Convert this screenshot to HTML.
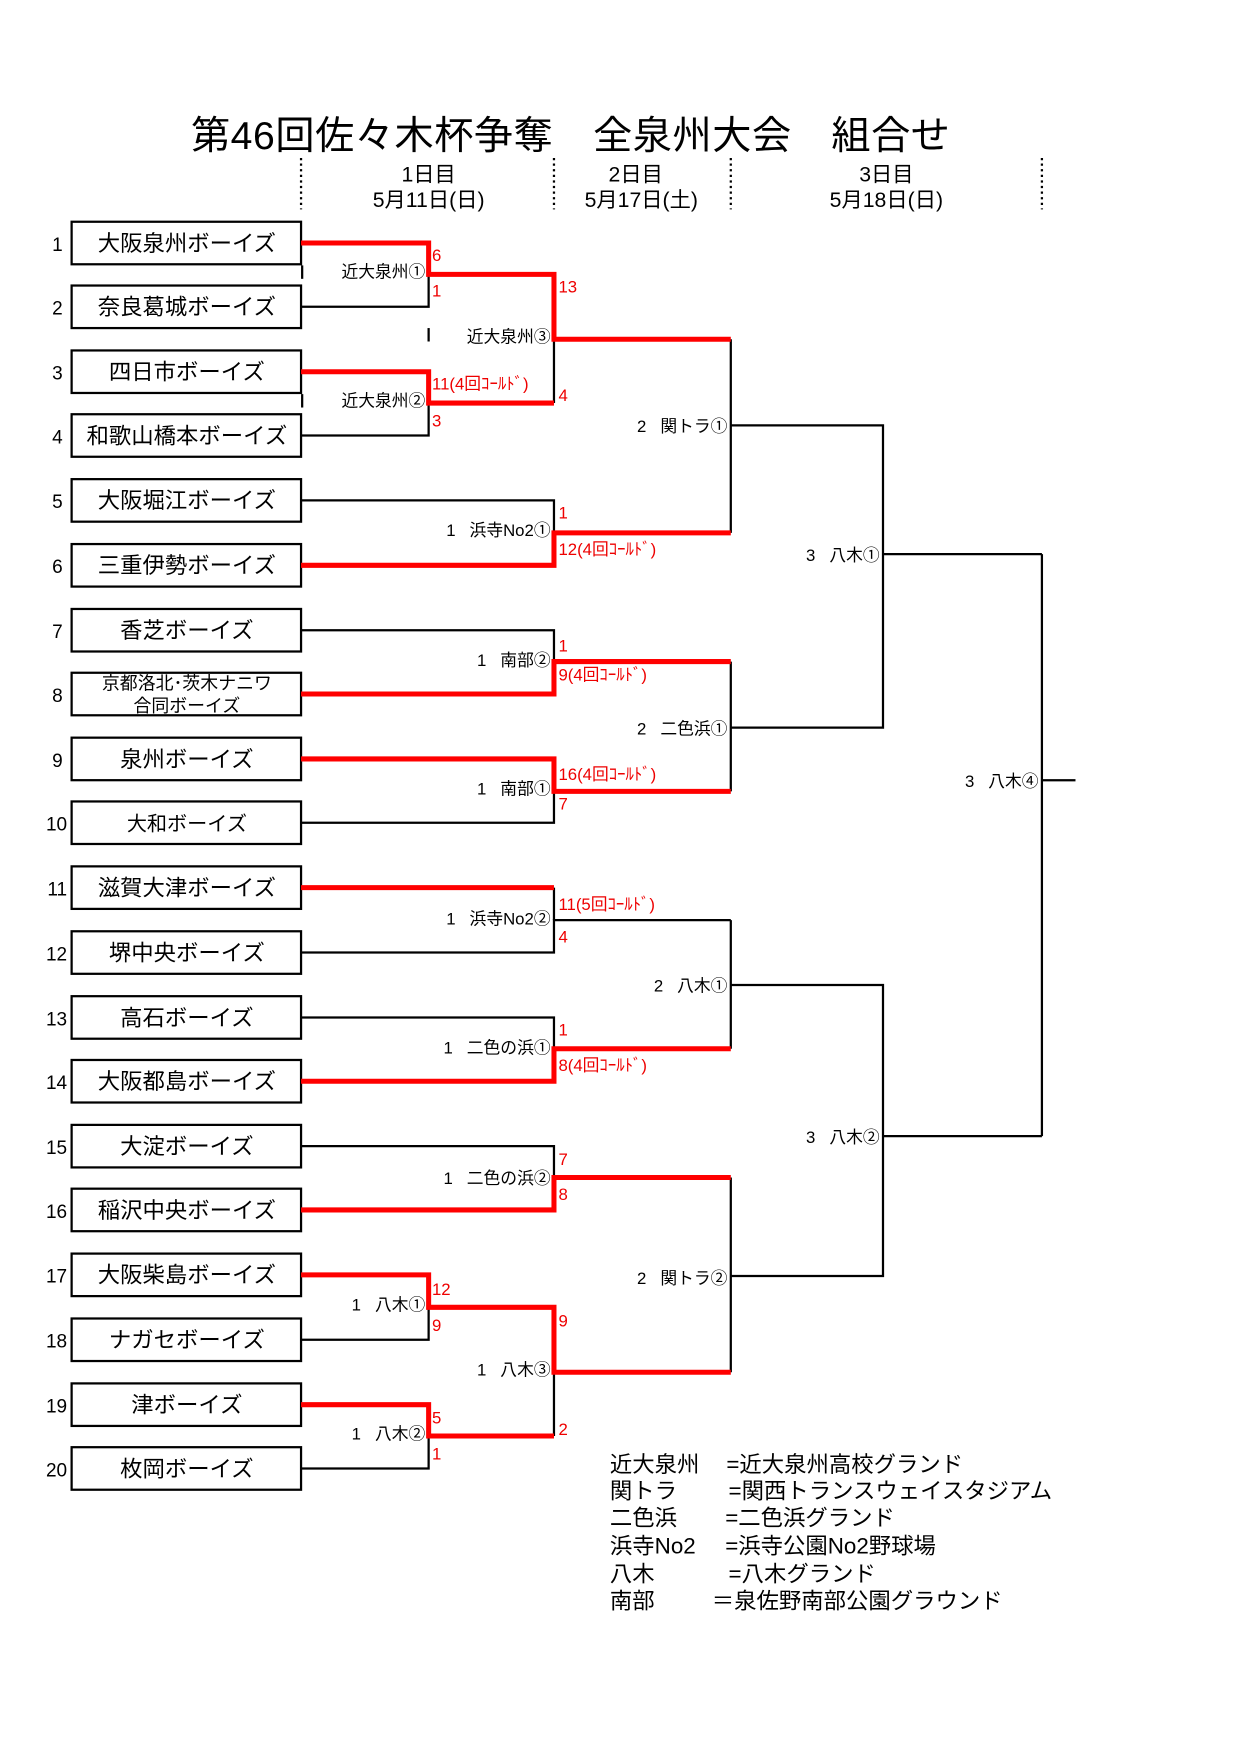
<!DOCTYPE html>
<html><head><meta charset="utf-8"><style>
html,body{margin:0;padding:0;background:#fff;}
svg{display:block;font-family:"Liberation Sans","Noto Sans CJK JP",sans-serif;}
</style></head><body>
<svg width="1240" height="1754" viewBox="0 0 1108 1567" xmlns="http://www.w3.org/2000/svg">
<rect width="1108" height="1567" fill="#fff"/>
<text x="510" y="133" font-size="35" text-anchor="middle" fill="#000" letter-spacing="0.5">第46回佐々木杯争奪　全泉州大会　組合せ</text>
<g stroke="#000" stroke-width="2" stroke-dasharray="2,3">
<line x1="269" y1="141" x2="269" y2="187"/><line x1="495" y1="141" x2="495" y2="187"/>
<line x1="653" y1="141" x2="653" y2="187"/><line x1="931" y1="141" x2="931" y2="187"/>
</g>
<g font-size="19" text-anchor="middle" fill="#000">
<text x="383" y="162">1日目</text><text x="383" y="185">5月11日(日)</text>
<text x="568" y="162">2日目</text><text x="573" y="185">5月17日(土)</text>
<text x="792" y="162">3日目</text><text x="792" y="185">5月18日(日)</text>
</g>
<g stroke="#000" stroke-width="2" fill="#fff">
<rect x="64" y="198" width="205" height="38"/><rect x="64" y="255" width="205" height="38"/>
<rect x="64" y="313" width="205" height="38"/><rect x="64" y="370" width="205" height="38"/>
<rect x="64" y="428" width="205" height="38"/><rect x="64" y="486" width="205" height="38"/>
<rect x="64" y="544" width="205" height="38"/><rect x="64" y="601" width="205" height="38"/>
<rect x="64" y="659" width="205" height="38"/><rect x="64" y="716" width="205" height="38"/>
<rect x="64" y="774" width="205" height="38"/><rect x="64" y="832" width="205" height="38"/>
<rect x="64" y="890" width="205" height="38"/><rect x="64" y="947" width="205" height="38"/>
<rect x="64" y="1005" width="205" height="38"/><rect x="64" y="1062" width="205" height="38"/>
<rect x="64" y="1120" width="205" height="38"/><rect x="64" y="1178" width="205" height="38"/>
<rect x="64" y="1236" width="205" height="38"/><rect x="64" y="1293" width="205" height="38"/>
</g>
<g font-size="17" text-anchor="end" fill="#000">
<text x="56" y="224">1</text><text x="56" y="281">2</text><text x="56" y="339">3</text><text x="56" y="396">4</text>
<text x="56" y="454">5</text><text x="56" y="512">6</text><text x="56" y="570">7</text><text x="56" y="627">8</text>
<text x="56" y="685">9</text><text x="60" y="742">10</text><text x="60" y="800">11</text><text x="60" y="858">12</text>
<text x="60" y="916">13</text><text x="60" y="973">14</text><text x="60" y="1031">15</text><text x="60" y="1088">16</text>
<text x="60" y="1146">17</text><text x="60" y="1204">18</text><text x="60" y="1262">19</text><text x="60" y="1319">20</text>
</g>
<g font-size="20" text-anchor="middle" fill="#000">
<text x="167" y="224">大阪泉州ボーイズ</text><text x="167" y="281">奈良葛城ボーイズ</text>
<text x="167" y="339">四日市ボーイズ</text><text x="167" y="396">和歌山橋本ボーイズ</text>
<text x="167" y="454">大阪堀江ボーイズ</text><text x="167" y="512">三重伊勢ボーイズ</text>
<text x="167" y="570">香芝ボーイズ</text>
<text x="167" y="616" font-size="16">京都洛北･茨木ナニワ</text><text x="167" y="636" font-size="16">合同ボーイズ</text>
<text x="167" y="685">泉州ボーイズ</text><text x="167" y="742" font-size="18">大和ボーイズ</text>
<text x="167" y="800">滋賀大津ボーイズ</text><text x="167" y="858">堺中央ボーイズ</text>
<text x="167" y="916">高石ボーイズ</text><text x="167" y="973">大阪都島ボーイズ</text>
<text x="167" y="1031">大淀ボーイズ</text><text x="167" y="1088">稲沢中央ボーイズ</text>
<text x="167" y="1146">大阪柴島ボーイズ</text><text x="167" y="1204">ナガセボーイズ</text>
<text x="167" y="1262">津ボーイズ</text><text x="167" y="1319">枚岡ボーイズ</text>
</g>
<g stroke="#000" stroke-width="2" fill="none">
<polyline points="269,274 383,274 383,245"/>
<polyline points="269,389 383,389 383,360"/>
<line x1="270" y1="237" x2="270" y2="249"/><line x1="383" y1="293" x2="383" y2="305"/>
<line x1="270" y1="352" x2="270" y2="364"/>
<line x1="495" y1="303" x2="495" y2="360"/>
<polyline points="269,447 495,447 495,476"/>
<polyline points="269,563 495,563 495,591"/>
<polyline points="269,735 495,735 495,707"/>
<polyline points="269,851 495,851 495,822 653,822"/>
<line x1="495" y1="793" x2="495" y2="822"/>
<polyline points="269,909 495,909 495,937"/>
<polyline points="269,1024 495,1024 495,1052"/>
<polyline points="269,1197 383,1197 383,1168"/>
<polyline points="269,1312 383,1312 383,1283"/>
<line x1="495" y1="1226" x2="495" y2="1283"/>
<line x1="653" y1="303" x2="653" y2="476"/>
<line x1="653" y1="591" x2="653" y2="707"/>
<line x1="653" y1="822" x2="653" y2="937"/>
<line x1="653" y1="1052" x2="653" y2="1226"/>
<polyline points="653,380 789,380 789,650 653,650"/>
<polyline points="653,880 789,880 789,1140 653,1140"/>
<line x1="789" y1="495" x2="931" y2="495"/>
<line x1="789" y1="1015" x2="931" y2="1015"/>
<line x1="931" y1="495" x2="931" y2="1015"/>
<line x1="931" y1="697" x2="961" y2="697"/>
</g>
<g stroke="#f00" stroke-width="4.5" fill="none">
<polyline points="269,217 383,217 383,245 495,245 495,303 653,303"/>
<polyline points="269,332 383,332 383,360 495,360"/>
<polyline points="269,505 495,505 495,476 653,476"/>
<polyline points="269,620 495,620 495,591 653,591"/>
<polyline points="269,678 495,678 495,707 653,707"/>
<line x1="269" y1="793" x2="495" y2="793"/>
<polyline points="269,966 495,966 495,937 653,937"/>
<polyline points="269,1081 495,1081 495,1052 653,1052"/>
<polyline points="269,1139 383,1139 383,1168 495,1168 495,1226 653,1226"/>
<polyline points="269,1255 383,1255 383,1283 495,1283"/>
</g>
<g font-size="15" text-anchor="end" fill="#000">
<text x="380" y="248">近大泉州①</text><text x="380" y="363">近大泉州②</text>
<text x="492" y="306">近大泉州③</text>
<text x="492" y="479">1&#160;&#160;&#160;浜寺No2①</text>
<text x="492" y="595">1&#160;&#160;&#160;南部②</text>
<text x="492" y="710">1&#160;&#160;&#160;南部①</text>
<text x="492" y="826">1&#160;&#160;&#160;浜寺No2②</text>
<text x="492" y="941">1&#160;&#160;&#160;二色の浜①</text>
<text x="492" y="1058">1&#160;&#160;&#160;二色の浜②</text>
<text x="380" y="1171">1&#160;&#160;&#160;八木①</text>
<text x="492" y="1229">1&#160;&#160;&#160;八木③</text>
<text x="380" y="1286">1&#160;&#160;&#160;八木②</text>
<text x="650" y="386">2&#160;&#160;&#160;関トラ①</text>
<text x="650" y="656">2&#160;&#160;&#160;二色浜①</text>
<text x="650" y="886">2&#160;&#160;&#160;八木①</text>
<text x="650" y="1147">2&#160;&#160;&#160;関トラ②</text>
<text x="786" y="501">3&#160;&#160;&#160;八木①</text>
<text x="786" y="1021">3&#160;&#160;&#160;八木②</text>
<text x="928" y="703">3&#160;&#160;&#160;八木④</text>
</g>
<g font-size="15" fill="#e00">
<text x="386" y="233">6</text><text x="386" y="265">1</text>
<text x="386" y="348">11(4回ｺｰﾙﾄﾞ)</text><text x="386" y="381">3</text>
<text x="499" y="261">13</text><text x="499" y="358">4</text>
<text x="499" y="463">1</text><text x="499" y="496">12(4回ｺｰﾙﾄﾞ)</text>
<text x="499" y="582">1</text><text x="499" y="608">9(4回ｺｰﾙﾄﾞ)</text>
<text x="499" y="697">16(4回ｺｰﾙﾄﾞ)</text><text x="499" y="723">7</text>
<text x="499" y="813">11(5回ｺｰﾙﾄﾞ)</text><text x="499" y="842">4</text>
<text x="499" y="925">1</text><text x="499" y="957">8(4回ｺｰﾙﾄﾞ)</text>
<text x="499" y="1041">7</text><text x="499" y="1072">8</text>
<text x="386" y="1157">12</text><text x="386" y="1189">9</text>
<text x="499" y="1185">9</text><text x="499" y="1282">2</text>
<text x="386" y="1272">5</text><text x="386" y="1304">1</text>
</g>
<g font-size="20" fill="#000">
<text x="545" y="1315">近大泉州</text><text x="649" y="1315">=近大泉州高校グランド</text>
<text x="545" y="1339">関トラ</text><text x="651" y="1339">=関西トランスウェイスタジアム</text>
<text x="545" y="1363">二色浜</text><text x="648" y="1363">=二色浜グランド</text>
<text x="545" y="1388">浜寺No2</text><text x="648" y="1388">=浜寺公園No2野球場</text>
<text x="545" y="1413">八木</text><text x="651" y="1413">=八木グランド</text>
<text x="545" y="1437">南部</text><text x="636" y="1437">＝泉佐野南部公園グラウンド</text>
</g>
</svg>
</body></html>
